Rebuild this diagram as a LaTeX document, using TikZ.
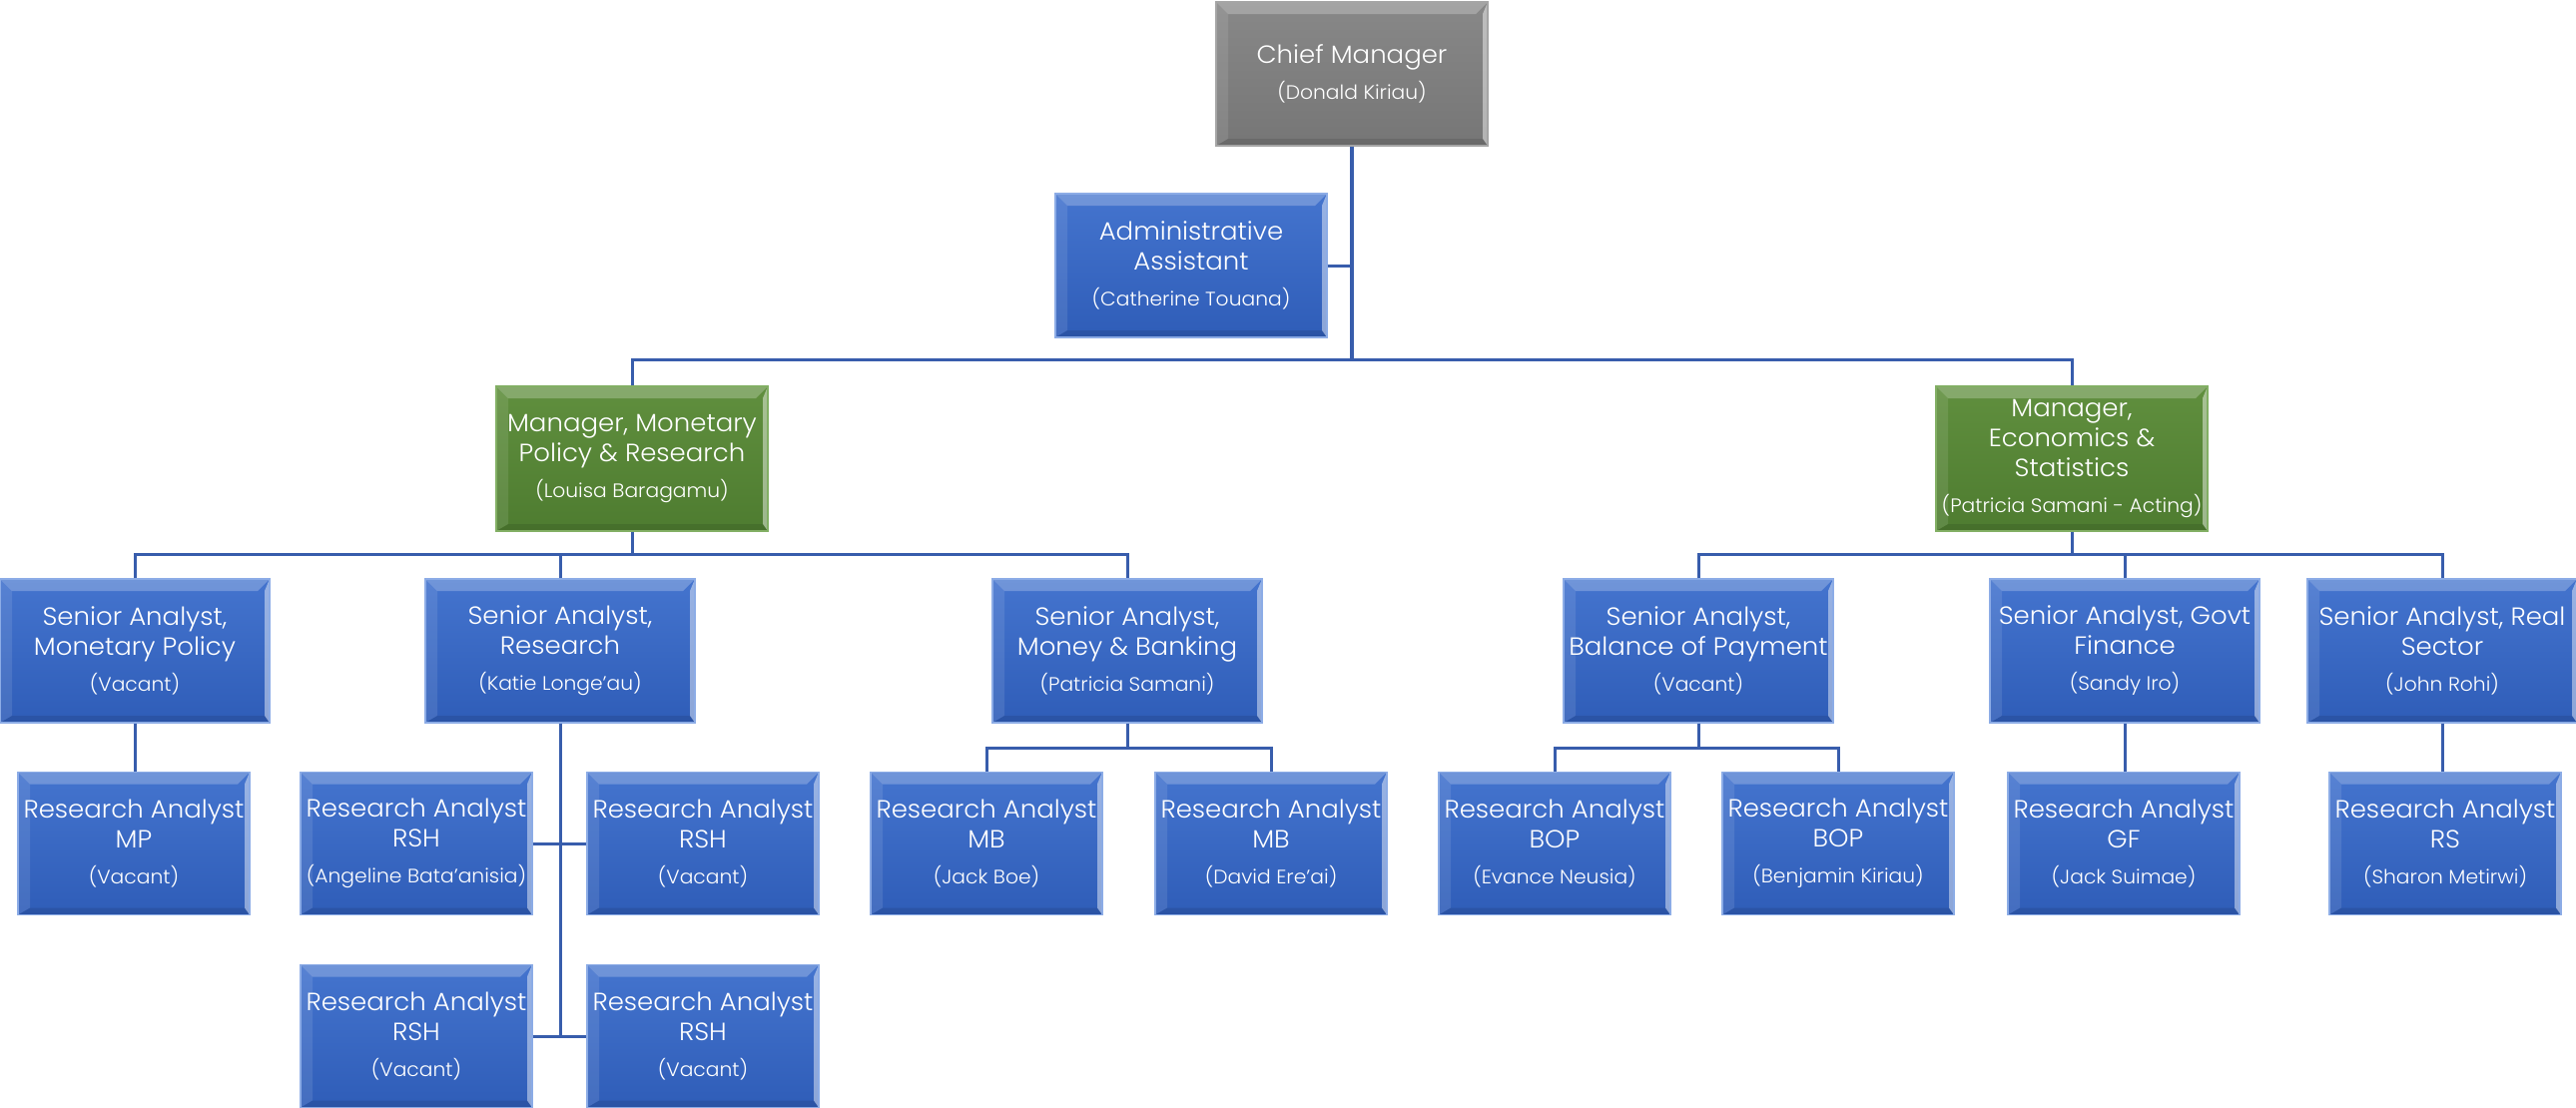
\documentclass[tikz,border=0pt]{standalone}
\usepackage{fontspec}
\setmainfont{Poppins}[UprightFont=* Light, FakeStretch=1.04]
\definecolor{linec}{RGB}{56,93,172}
\definecolor{btop}{RGB}{68,116,206}
\definecolor{bbot}{RGB}{47,93,184}
\definecolor{bedge}{RGB}{140,172,230}
\definecolor{gtop}{RGB}{96,143,62}
\definecolor{gbot}{RGB}{78,124,48}
\definecolor{gedge}{RGB}{130,175,100}
\definecolor{ytop}{RGB}{136,136,136}
\definecolor{ybot}{RGB}{118,118,118}
\definecolor{yedge}{RGB}{165,165,165}
\newcommand\nm[1]{{\fontsize{19.5}{23}\selectfont #1}}
\tikzset{
  x=1pt, y=-1pt,
  basebox/.style={rectangle, inner sep=0pt, align=center, text=white,
    font=\fontsize{25}{30}\selectfont, line width=1.4pt,
    path picture={
      \fill[white,opacity=.24] (path picture bounding box.north west) -- (path picture bounding box.north east)
        -- ([shift={(-12pt,-12pt)}]path picture bounding box.north east) -- ([shift={(12pt,-12pt)}]path picture bounding box.north west) -- cycle;
      \fill[white,opacity=.10] (path picture bounding box.north west) -- (path picture bounding box.south west)
        -- ([shift={(12pt,7pt)}]path picture bounding box.south west) -- ([shift={(12pt,-12pt)}]path picture bounding box.north west) -- cycle;
      \fill[white,opacity=.45] (path picture bounding box.north east) -- (path picture bounding box.south east)
        -- ([shift={(-5pt,7pt)}]path picture bounding box.south east) -- ([shift={(-5pt,-12pt)}]path picture bounding box.north east) -- cycle;
      \fill[black,opacity=.10] (path picture bounding box.south west) -- (path picture bounding box.south east)
        -- ([shift={(-5pt,7pt)}]path picture bounding box.south east) -- ([shift={(12pt,7pt)}]path picture bounding box.south west) -- cycle;
    }},
  bluebox/.style={basebox, top color=btop, bottom color=bbot, draw=bedge, minimum width=270pt, minimum height=144pt},
  rabox/.style={bluebox, minimum width=232pt, minimum height=143pt},
  greenbox/.style={basebox, top color=gtop, bottom color=gbot, draw=gedge, minimum width=272pt, minimum height=145pt},
  graybox/.style={basebox, top color=ytop, bottom color=ybot, draw=yedge, minimum width=272pt, minimum height=144pt},
  conn/.style={draw=linec, line width=3pt, line join=miter},
}
\begin{document}
\begin{tikzpicture}
\useasboundingbox[fill=white] (0,0) rectangle (2580,1109);
% level 0-1
\node[graybox] (chief) at (1354,74) {Chief Manager\\[6pt]\nm{(Donald Kiriau)}};
\node[bluebox, minimum width=272pt] (admin) at (1193,266) {Administrative\\Assistant\\[6pt]\nm{(Catherine Touana)}};
\node[greenbox] (mmp) at (633,459.5) {Manager, Monetary\\Policy \& Research\\[6pt]\nm{(Louisa Baragamu)}};
\node[greenbox] (mes) at (2075,459.5) {Manager,\\Economics \&\\Statistics\\[6pt]\nm{(Patricia Samani - Acting)}};
% seniors
\node[bluebox] (smp) at (135,652) {Senior Analyst,\\Monetary Policy\\[6pt]\nm{(Vacant)}};
\node[bluebox] (srs) at (561,652) {Senior Analyst,\\Research\\[6pt]\nm{(Katie Longe’au)}};
\node[bluebox] (smb) at (1129,652) {Senior Analyst,\\Money \& Banking\\[6pt]\nm{(Patricia Samani)}};
\node[bluebox] (sbp) at (1701,652) {Senior Analyst,\\Balance of Payment\\[6pt]\nm{(Vacant)}};
\node[bluebox] (sgf) at (2128,652) {Senior Analyst, Govt\\Finance\\[6pt]\nm{(Sandy Iro)}};
\node[bluebox] (srl) at (2446,652) {Senior Analyst, Real\\Sector\\[6pt]\nm{(John Rohi)}};
% research analysts
\node[rabox] (ramp) at (134,845) {Research Analyst\\MP\\[6pt]\nm{(Vacant)}};
\node[rabox] (rsh1) at (417,845) {Research Analyst\\RSH\\[6pt]\nm{(Angeline Bata’anisia)}};
\node[rabox] (rsh2) at (704,845) {Research Analyst\\RSH\\[6pt]\nm{(Vacant)}};
\node[rabox] (rsh3) at (417,1038) {Research Analyst\\RSH\\[6pt]\nm{(Vacant)}};
\node[rabox] (rsh4) at (704,1038) {Research Analyst\\RSH\\[6pt]\nm{(Vacant)}};
\node[rabox] (mb1) at (988,845) {Research Analyst\\MB\\[6pt]\nm{(Jack Boe)}};
\node[rabox] (mb2) at (1273,845) {Research Analyst\\MB\\[6pt]\nm{(David Ere’ai)}};
\node[rabox] (bp1) at (1557,845) {Research Analyst\\BOP\\[6pt]\nm{(Evance Neusia)}};
\node[rabox] (bp2) at (1841,845) {Research Analyst\\BOP\\[6pt]\nm{(Benjamin Kiriau)}};
\node[rabox] (gf) at (2127,845) {Research Analyst\\GF\\[6pt]\nm{(Jack Suimae)}};
\node[rabox] (rs) at (2449,845) {Research Analyst\\RS\\[6pt]\nm{(Sharon Metirwi)}};
% junctions
\coordinate (j0) at (1354,360);
\coordinate (j1) at (633,555);
\coordinate (j2) at (2075,555);
\coordinate (j3) at (1129,749);
\coordinate (j4) at (1701,749);
% connectors
\draw[conn, line width=3.5pt] (chief.south) -- (j0);
\draw[conn] (admin.east) -- (admin.east -| chief.south);
\draw[conn] (mmp.north) -- (mmp.north |- j0) -- (mes.north |- j0) -- (mes.north);
\draw[conn] (mmp.south) -- (j1);
\draw[conn] (smp.north) -- (smp.north |- j1) -- (smb.north |- j1) -- (smb.north);
\draw[conn] (srs.north) -- (srs.north |- j1);
\draw[conn] (mes.south) -- (j2);
\draw[conn] (sbp.north) -- (sbp.north |- j2) -- (srl.north |- j2) -- (srl.north);
\draw[conn] (sgf.north) -- (sgf.north |- j2);
\draw[conn] (smp.south) -- (smp.south |- ramp.north);
\draw[conn] (srs.south) -- (srs.south |- rsh3.east);
\draw[conn] (rsh1.east) -- (rsh2.west);
\draw[conn] (rsh3.east) -- (rsh4.west);
\draw[conn] (smb.south) -- (j3);
\draw[conn] (mb1.north) -- (mb1.north |- j3) -- (mb2.north |- j3) -- (mb2.north);
\draw[conn] (sbp.south) -- (j4);
\draw[conn] (bp1.north) -- (bp1.north |- j4) -- (bp2.north |- j4) -- (bp2.north);
\draw[conn] (sgf.south) -- (sgf.south |- gf.north);
\draw[conn] (srl.south) -- (srl.south |- rs.north);
\end{tikzpicture}
\end{document}
